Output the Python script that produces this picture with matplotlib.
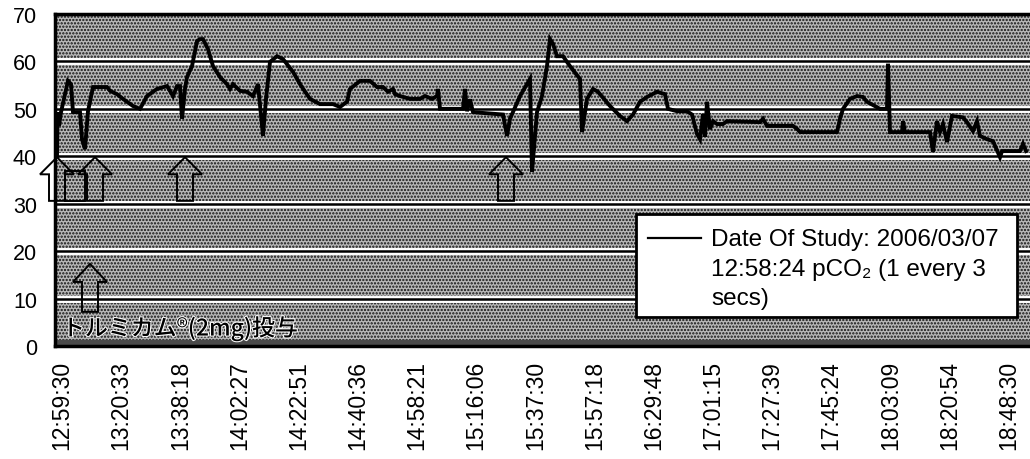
import numpy as np
import matplotlib.pyplot as plt
from matplotlib.patches import Rectangle, FancyArrow
from matplotlib.lines import Line2D
import matplotlib.patheffects as pe

plt.rcParams['font.family'] = ['Liberation Sans', 'Noto Sans CJK JP', 'DejaVu Sans']
plt.rcParams['hatch.linewidth'] = 1.1

# pCO2 trace: x = sample number (1 sample every 3 secs), y = pCO2
sample = [0, 3, 12, 24, 48, 66, 84, 96, 138, 150, 168, 186, 216, 300, 318, 360,
          396, 456, 498, 540, 600, 660, 696, 720, 738, 750, 768, 780, 810, 840,
          858, 876, 906, 936, 978, 1020, 1038, 1056, 1098, 1140, 1176, 1206, 1236,
          1254, 1278, 1320, 1356, 1416, 1458, 1518, 1578, 1656, 1698, 1740, 1758,
          1818, 1878, 1920, 1956, 1986, 2016, 2028, 2058, 2118, 2178, 2208, 2250,
          2280, 2286, 2298, 2436, 2448, 2460, 2478, 2496, 2676, 2700, 2718, 2778,
          2838, 2850, 2880, 2910, 2940, 2958, 2976, 3000, 3036, 3078, 3138, 3150,
          3180, 3216, 3246, 3318, 3378, 3420, 3456, 3498, 3540, 3600, 3648, 3666,
          3720, 3780, 3810, 3840, 3858, 3876, 3888, 3900, 3918, 3936, 3960, 3996,
          4020, 4218, 4236, 4260, 4416, 4440, 4458, 4680, 4698, 4716, 4758, 4800,
          4836, 4860, 4938, 4980, 4986, 4998, 5070, 5076, 5088, 5238, 5256, 5280,
          5298, 5316, 5340, 5370, 5436, 5460, 5496, 5520, 5538, 5580, 5616, 5658,
          5670, 5778, 5796, 5814]
pco2 = [40.1, 49.3, 46.4, 49.3, 53.1, 55.9, 55.2, 49.3, 49.3, 43.6, 41.5, 49.5,
        54.6, 54.6, 53.8, 53.1, 52.1, 50.6, 50.0, 52.7, 54.2, 54.8, 52.7, 54.8,
        54.8, 47.9, 54.2, 56.7, 59.0, 64.3, 64.7, 64.7, 62.6, 59.0, 56.7, 55.2,
        54.2, 55.2, 53.8, 53.6, 52.7, 55.2, 44.3, 52.1, 59.9, 61.1, 60.5, 57.8,
        55.2, 52.1, 51.0, 51.0, 50.4, 51.5, 54.2, 55.9, 55.9, 54.6, 54.6, 53.6,
        54.2, 53.1, 52.7, 52.1, 52.1, 52.7, 52.1, 52.7, 54.2, 50.0, 50.0, 54.2,
        49.5, 52.0, 49.3, 48.8, 44.3, 47.9, 52.7, 56.3, 36.7, 49.3, 52.7, 59.0,
        64.7, 63.7, 61.1, 61.1, 59.0, 56.3, 45.1, 52.1, 54.2, 53.6, 50.6, 48.5,
        47.4, 48.8, 51.5, 52.5, 53.6, 53.1, 50.0, 49.5, 49.5, 48.8, 44.7, 43.6,
        48.9, 44.1, 51.5, 45.7, 47.4, 46.8, 46.8, 47.4, 47.2, 47.9, 46.4, 46.4,
        45.8, 45.1, 45.1, 47.9, 50.0, 52.1, 52.7, 52.5, 51.5, 50.0, 50.0, 59.5,
        45.1, 45.1, 47.4, 45.1, 45.1, 40.9, 47.4, 45.1, 46.8, 43.0, 48.5, 48.2,
        47.2, 45.3, 47.4, 44.3, 43.6, 43.2, 39.8, 41.1, 41.1, 42.6, 41.1]

tick_labels = ['12:59:30', '13:20:33', '13:38:18', '14:02:27', '14:22:51',
               '14:40:36', '14:58:21', '15:16:06', '15:37:30', '15:57:18',
               '16:29:48', '17:01:15', '17:27:39', '17:45:24', '18:03:09',
               '18:20:54', '18:48:30']
tick_first = 30
tick_step = 355

# dosing arrows (sample number)
arrow_x = [0, 228, 768, 2694]
arrow_tip, arrow_base = 39.8, 30.6
dose_arrow_x = 198
dose_tip, dose_base = 17.3, 7.2

legend_lines = ['Date Of Study: 2006/03/07', '12:58:24 pCO\u2082 (1 every 3', 'secs)']

fig = plt.figure(figsize=(10.3, 4.6), dpi=100)
ax = fig.add_axes([55/1030, 113/460, 975/1030, 332/460])

# stippled background
ax.add_patch(Rectangle((0, 0), 1, 1, transform=ax.transAxes, facecolor='#b8b8b8',
                       hatch='.....', edgecolor='#111111', lw=0, zorder=0))
ax.axhspan(0, 1.3, color='#4a4a4a', zorder=0.5)

for v in range(10, 70, 10):
    ax.axhline(v, color='white', lw=5, zorder=1)
    ax.axhline(v, color='black', lw=1.8, zorder=1.1)

ax.plot(sample, pco2, color='black', lw=2.8, zorder=3, solid_joinstyle='miter')

# hollow arrows
for x in arrow_x:
    ax.add_patch(FancyArrow(x, arrow_base, 0, arrow_tip - arrow_base, width=96,
                            head_width=204, head_length=3.6, length_includes_head=True,
                            fill=False, ec='black', lw=1.4, zorder=2, clip_on=False))
ax.add_patch(Rectangle((50, arrow_base), 120, 6.2, fill=False, ec='black', lw=1.4, zorder=2))
ax.add_patch(FancyArrow(dose_arrow_x, dose_base, 0, dose_tip - dose_base, width=96,
                        head_width=204, head_length=3.8, length_includes_head=True,
                        fill=False, ec='black', lw=1.4, zorder=2))

ax.text(30, 3.7, 'トルミカム®(2mg)投与', family=['Noto Sans CJK JP', 'DejaVu Sans'],
        fontsize=16.5, fontweight='medium', ha='left', va='center', zorder=4,
        color='black', path_effects=[pe.withStroke(linewidth=1.5, foreground='white')])

# legend box
ax.add_patch(Rectangle((0.596, 0.087), 0.391, 0.311, transform=ax.transAxes,
                       facecolor='white', edgecolor='black', lw=2, zorder=5))
ax.add_line(Line2D([0.608, 0.663], [0.324, 0.324], transform=ax.transAxes,
                   color='black', lw=1.6, zorder=6))
for txt, yy in zip(legend_lines, [0.322, 0.232, 0.145]):
    ax.text(0.673, yy, txt, transform=ax.transAxes, fontsize=17.5, va='center',
            ha='left', zorder=6)

ax.set_xlim(-12, 5838)
ax.set_ylim(0, 70)
ax.set_yticks(range(0, 71, 10))
ax.set_xticks(tick_first + tick_step * np.arange(len(tick_labels)))
ax.set_xticklabels(tick_labels, rotation=90)
ax.tick_params(axis='x', length=0, pad=10, labelsize=16.5)
ax.tick_params(axis='y', length=0, pad=13, labelsize=15.5)
for s in ['top', 'left', 'bottom']:
    ax.spines[s].set_linewidth(2.5)
ax.spines['right'].set_visible(False)

fig.savefig('out.png', dpi=100)
